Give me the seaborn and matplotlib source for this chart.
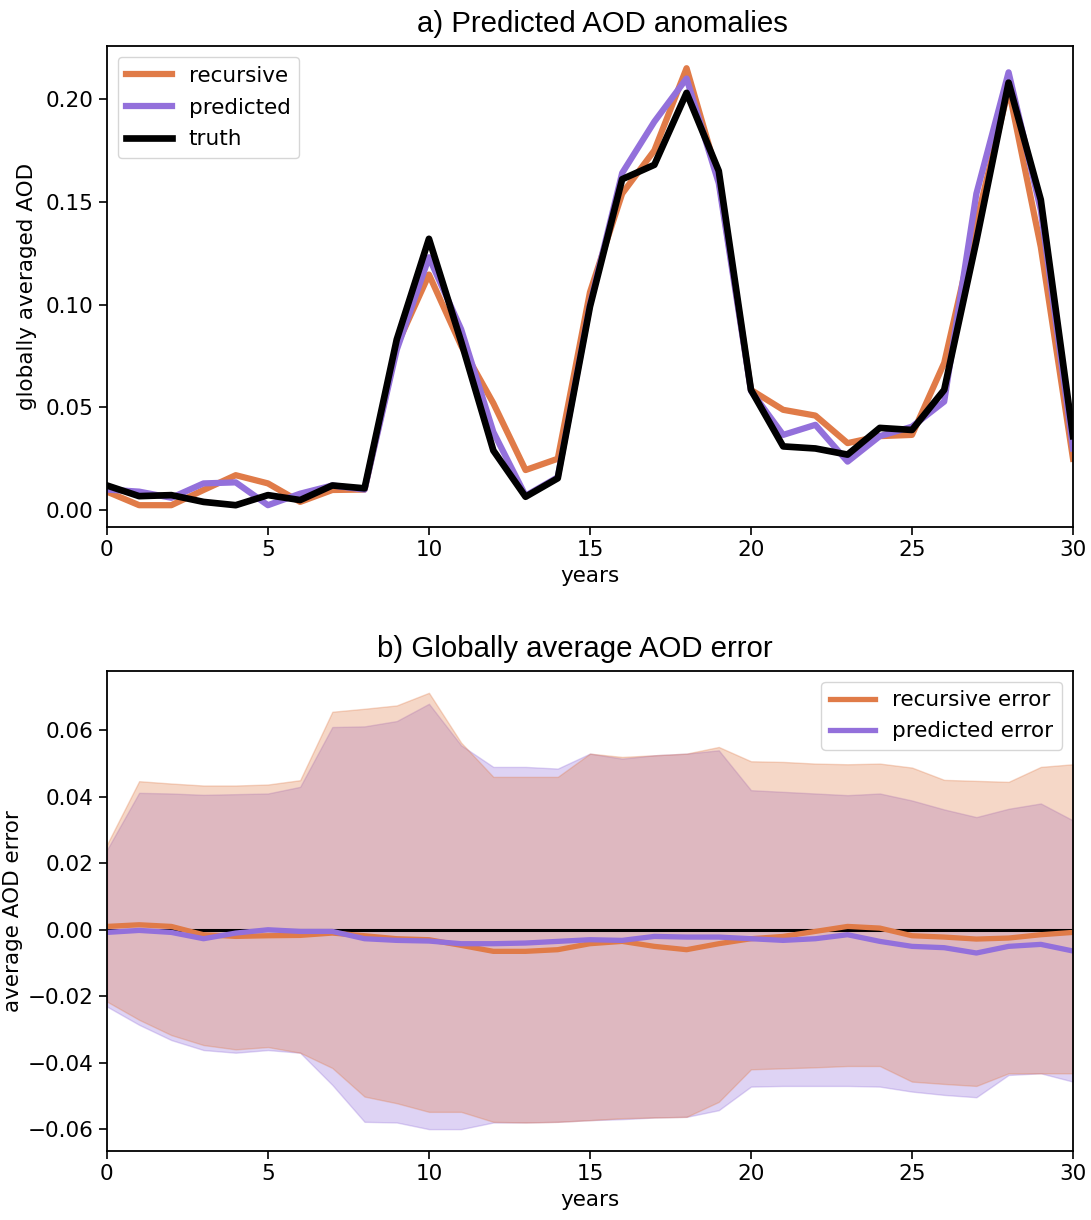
import numpy as np
import pandas as pd
import matplotlib
matplotlib.use("Agg")
import matplotlib.pyplot as plt
import seaborn as sns

years = list(range(31))

# Panel a) globally averaged AOD
recursive = [0.009, 0.0024, 0.0024, 0.0098, 0.017, 0.013, 0.004, 0.0098, 0.010, 0.080,
             0.1146, 0.080, 0.052, 0.0195, 0.025, 0.106, 0.154, 0.175, 0.215, 0.161,
             0.0585, 0.0488, 0.046, 0.0326, 0.036, 0.0366, 0.0716, 0.140, 0.205, 0.128,
             0.025]
predicted = [0.010, 0.009, 0.006, 0.013, 0.0135, 0.0024, 0.008, 0.012, 0.010, 0.078,
             0.123, 0.088, 0.038, 0.007, 0.016, 0.100, 0.164, 0.189, 0.210, 0.159,
             0.058, 0.0366, 0.0415, 0.0236, 0.036, 0.0406, 0.0528, 0.154, 0.213, 0.146,
             0.030]
truth = [0.012, 0.0068, 0.0073, 0.004, 0.0024, 0.0073, 0.0049, 0.012, 0.0106, 0.083,
         0.132, 0.082, 0.029, 0.0065, 0.0155, 0.099, 0.161, 0.168, 0.203, 0.165,
         0.0585, 0.031, 0.030, 0.027, 0.040, 0.039, 0.0585, 0.131, 0.208, 0.151,
         0.036]

# Panel b) error mean and bands
rec_err = [0.001, 0.0015, 0.001, -0.0015, -0.002, -0.0018, -0.0017, -0.001, -0.0018, -0.0027,
           -0.003, -0.0047, -0.0065, -0.0065, -0.006, -0.0042, -0.0035, -0.005, -0.006, -0.0042,
           -0.0027, -0.002, -0.0005, 0.001, 0.0005, -0.0018, -0.0022, -0.0028, -0.0025, -0.0015,
           -0.0008]
pred_err = [-0.0008, -0.0002, -0.0008, -0.0027, -0.001, 0.0, -0.0005, -0.0005, -0.0027, -0.0032,
            -0.0034, -0.0042, -0.0042, -0.004, -0.0035, -0.003, -0.0032, -0.002, -0.0022, -0.0022,
            -0.0027, -0.0032, -0.0027, -0.0015, -0.0035, -0.005, -0.0054, -0.007, -0.005, -0.0044,
            -0.0064]
rec_hi = [0.0256, 0.0447, 0.044, 0.0434, 0.0434, 0.0437, 0.045, 0.0656, 0.0665, 0.0675,
          0.0713, 0.0563, 0.046, 0.046, 0.046, 0.053, 0.052, 0.0525, 0.053, 0.055,
          0.0507, 0.0505, 0.050, 0.0498, 0.050, 0.0488, 0.0451, 0.0448, 0.0445, 0.049,
          0.0498]
rec_lo = [-0.0216, -0.0271, -0.0317, -0.0347, -0.036, -0.0353, -0.037, -0.0416, -0.0502, -0.0522,
          -0.0548, -0.0548, -0.0578, -0.058, -0.0578, -0.0573, -0.0567, -0.0565, -0.0563, -0.0518,
          -0.042, -0.0417, -0.0414, -0.041, -0.041, -0.0457, -0.0464, -0.047, -0.0432, -0.0432,
          -0.0432]
pred_hi = [0.024, 0.0412, 0.041, 0.0406, 0.0408, 0.041, 0.043, 0.061, 0.0612, 0.0628,
           0.068, 0.0555, 0.049, 0.049, 0.0485, 0.053, 0.0515, 0.0525, 0.053, 0.054,
           0.042, 0.0415, 0.041, 0.0405, 0.041, 0.0389, 0.0362, 0.0339, 0.0364, 0.038,
           0.0329]
pred_lo = [-0.0231, -0.0286, -0.0332, -0.0362, -0.037, -0.0362, -0.037, -0.0467, -0.0578, -0.058,
           -0.060, -0.060, -0.058, -0.058, -0.0578, -0.0573, -0.057, -0.0565, -0.0563, -0.0543,
           -0.0472, -0.047, -0.047, -0.047, -0.0472, -0.0487, -0.0497, -0.0504, -0.0437, -0.0432,
           -0.0457]

ORANGE = "#E07B48"
PURPLE = "#9370DB"

plt.rcParams["font.family"] = ["DejaVu Sans"]
plt.rcParams["font.size"] = 15.5

fig = plt.figure(figsize=(10.91, 12.2), dpi=100)
ax1 = fig.add_axes([0.098, 0.568, 0.8855, 0.394])
ax2 = fig.add_axes([0.098, 0.0566, 0.8855, 0.3934])

df_a = pd.DataFrame({"years": years, "recursive": recursive,
                     "predicted": predicted, "truth": truth})
sns.lineplot(data=df_a, x="years", y="recursive", ax=ax1, color=ORANGE, lw=4.5, label="recursive")
sns.lineplot(data=df_a, x="years", y="predicted", ax=ax1, color=PURPLE, lw=4.5, label="predicted")
sns.lineplot(data=df_a, x="years", y="truth", ax=ax1, color="black", lw=4.8, label="truth")
ax1.set_xlim(0, 30)
ax1.set_xticks([0, 5, 10, 15, 20, 25, 30])
ax1.set_yticks([0.0, 0.05, 0.10, 0.15, 0.20])
ax1.set_ylabel("globally averaged AOD")
ax1.set_xlabel("years")
t1 = ax1.set_title("a) Predicted AOD anomalies", fontfamily="Liberation Sans", fontsize=21.2, pad=10)
t1.set_x(0.513)
ax1.legend(loc="upper left", handlelength=2.1, fontsize=15.5, labelspacing=0.55)
ax1.yaxis.set_label_coords(-0.072, 0.5)

df_b = pd.DataFrame({"years": years, "rec_err": rec_err, "pred_err": pred_err,
                     "rec_hi": rec_hi, "rec_lo": rec_lo, "pred_hi": pred_hi, "pred_lo": pred_lo})
ax2.fill_between(df_b["years"], df_b["pred_lo"], df_b["pred_hi"], color=PURPLE, alpha=0.3)
ax2.fill_between(df_b["years"], df_b["rec_lo"], df_b["rec_hi"], color=ORANGE, alpha=0.3)
ax2.axhline(0, color="black", lw=2.2)
sns.lineplot(data=df_b, x="years", y="rec_err", ax=ax2, color=ORANGE, lw=3.8, label="recursive error")
sns.lineplot(data=df_b, x="years", y="pred_err", ax=ax2, color=PURPLE, lw=3.8, label="predicted error")
ax2.set_xlim(0, 30)
ax2.set_xticks([0, 5, 10, 15, 20, 25, 30])
ax2.set_yticks([-0.06, -0.04, -0.02, 0.0, 0.02, 0.04, 0.06])
ax2.set_ylabel("average AOD error")
ax2.set_xlabel("years")
t2 = ax2.set_title("b) Globally average AOD error", fontfamily="Liberation Sans", fontsize=21.2, pad=10)
t2.set_x(0.4845)
ax2.legend(loc="upper right", handlelength=2.1, fontsize=15.5)
ax2.yaxis.set_label_coords(-0.087, 0.5)

for ax in (ax1, ax2):
    ax.tick_params(length=6, width=1.2)
    for s in ax.spines.values():
        s.set_linewidth(1.3)

fig.savefig("out.png", dpi=100)
